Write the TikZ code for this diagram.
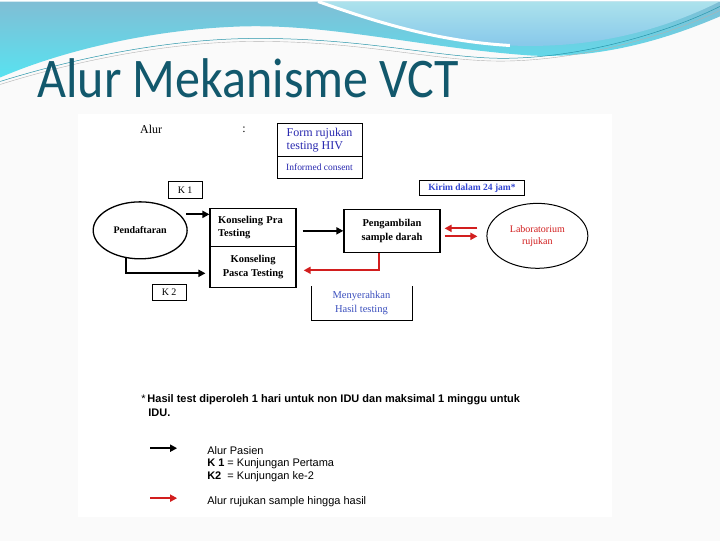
\documentclass[tikz,border=0pt]{standalone}
\usepackage{fontspec}
\setmainfont{Liberation Serif}
\newfontfamily\arialfont{Liberation Sans}
\newfontfamily\titlefont{Carlito}
\usetikzlibrary{arrows.meta, shapes.geometric, calc}

\definecolor{titleteal}{RGB}{18,88,108}
\definecolor{formblue}{RGB}{40,40,175}
\definecolor{kirimblue}{RGB}{50,70,210}
\definecolor{serahblue}{RGB}{60,80,190}
\definecolor{referred}{RGB}{210,30,30}
\definecolor{wavesteel}{RGB}{128,190,213}
\definecolor{wavecyan}{RGB}{88,226,240}
\definecolor{wavelight}{RGB}{172,226,236}
\definecolor{wavemid}{RGB}{132,198,234}
\definecolor{waveline}{RGB}{40,150,170}

\begin{document}
\begin{tikzpicture}[
  x=1pt, y=-1pt,
  flowbox/.style={draw, line width=1.3pt, inner sep=0pt,
    font=\fontsize{10.5}{13.5}\selectfont\bfseries, align=center},
  tagbox/.style={draw, line width=0.5pt, inner sep=0pt,
    font=\fontsize{10}{12}\selectfont},
  oval/.style={ellipse, draw, line width=1.3pt, inner sep=0pt},
  legendtext/.style={anchor=west, inner sep=0pt, font=\arialfont\fontsize{11}{13}\selectfont},
  patient/.style={line width=2.2pt, -{Triangle[length=7pt,width=7pt]}},
  referral/.style={referred, line width=1.8pt, -{Triangle[length=7pt,width=7pt]}},
]
  % slide background and picture panel
  \fill[white!98!black] (0,0) rectangle (720,540);
  \fill[white] (78,113) rectangle (612,516);

  % top wave
  \shade[top color=wavesteel, bottom color=wavecyan]
    (0,0) -- (720,0) -- (720,15)
    .. controls (680,32) and (610,58) .. (530,54)
    .. controls (420,46) and (330,22) .. (240,25)
    .. controls (150,28) and (60,50) .. (0,76) -- cycle;
  \shade[top color=wavelight, bottom color=wavemid]
    (318,0) .. controls (380,22) and (440,40) .. (510,44)
    .. controls (600,48) and (670,25) .. (720,0) -- cycle;
  \draw[white, line width=3pt] (318,0) .. controls (380,22) and (440,40) .. (510,44);
  \draw[waveline, line width=0.5pt]
    (0,80) .. controls (80,55) and (170,38) .. (250,37)
    .. controls (350,36) and (420,52) .. (480,56)
    .. controls (560,62) and (660,35) .. (720,5);
  \draw[gray!60, line width=0.4pt]
    (0,83) .. controls (80,58) and (170,41) .. (250,40)
    .. controls (350,39) and (420,56) .. (480,59)
    .. controls (560,64) and (660,38) .. (720,9);

  % title
  \node[anchor=base west, inner sep=0pt, text=titleteal,
    font=\titlefont\fontsize{56}{60}\selectfont] (title) at (37,96)
    {\scalebox{0.894}[1]{Alur Mekanisme VCT}};

  % header texts
  \node[inner sep=0pt, font=\fontsize{12}{14}\selectfont] (alur) at (151,128) {Alur};
  \node[inner sep=0pt, font=\fontsize{12}{14}\selectfont] (colon) at (244,128) {:};

  % form box
  \node[tagbox, text=formblue, minimum width=85pt, minimum height=33pt,
    align=left, font=\fontsize{12}{13}\selectfont] (formtop) at (319.5,138.5)
    {Form rujukan\\testing HIV};
  \node[tagbox, text=formblue, minimum width=85pt, minimum height=22pt,
    font=\fontsize{9.5}{11}\selectfont] (formbot) at (319.5,166) {Informed consent};

  % visit tags
  \node[tagbox, minimum width=34pt, minimum height=17pt] (k1) at (185,188.5) {K 1};
  \node[tagbox, minimum width=34pt, minimum height=16pt] (k2) at (169,291) {K 2};
  \node[tagbox, text=kirimblue, minimum width=105pt, minimum height=15pt,
    font=\fontsize{9.5}{11}\selectfont\bfseries] (kirim) at (472,186.5) {Kirim dalam 24 jam*};

  % flow nodes
  \node[oval, minimum width=94pt, minimum height=57pt,
    font=\fontsize{10}{12}\selectfont\bfseries] (daftar) at (140,229) {Pendaftaran};
  \node[flowbox, minimum width=86pt, minimum height=38pt, text width=70pt,
    align=left] (pra) at (253,226) {Konseling Pra\\Testing};
  \node[flowbox, minimum width=86pt, minimum height=41pt] (pasca) at (253,265.5)
    {Konseling\\Pasca Testing};
  \node[flowbox, minimum width=96pt, minimum height=43pt] (ambil) at (392,229.5)
    {Pengambilan\\sample darah};
  \node[oval, line width=1pt, minimum width=101pt, minimum height=65pt, text=referred,
    align=center, font=\fontsize{10}{12}\selectfont] (lab) at (537.5,234.5)
    {Laboratorium\\rujukan};

  % result handover (open top)
  \node[inner sep=0pt, minimum width=101pt, minimum height=34pt, text=serahblue,
    align=center, font=\fontsize{10.5}{14}\selectfont] (serah) at (361.5,302)
    {Menyerahkan\\Hasil testing};
  \draw[line width=0.6pt] (serah.north west) -- (serah.south west)
    -- (serah.south east) -- (serah.north east);

  % patient flow
  \coordinate (k1out) at (186,213);
  \draw[patient] (k1out) -- (k1out -| pra.west);
  \coordinate (k2out) at (126,257);
  \coordinate (k2in) at ($(pasca.west)+(-4,6.5)$);
  \draw[patient] (k2out) |- (k2in);
  \draw[patient] ($(ambil.west -| pra.east)+(6,0)$) -- (ambil.west);

  % sample referral
  \draw[referral] ($(lab.west)+(-9,-7.5)$) -- ($(ambil.east)+(4,-2.5)$);
  \draw[referral] ($(ambil.east)+(4,5.5)$) -- ($(lab.west)+(-9,0.5)$);
  \draw[referral] ($(ambil.south)+(-13,0)$) |- ($(pasca.east)+(7,3.5)$);

  % footnote
  \node[legendtext] (note1) at (141,398)
    {*\,\textbf{Hasil test diperoleh 1 hari untuk non IDU dan maksimal 1 minggu untuk}};
  \node[legendtext] (note2) at (148,411.5) {\textbf{IDU.}};

  % legend
  \coordinate (legA) at (150,447);
  \coordinate (legB) at (177,447);
  \draw[patient] (legA) -- (legB);
  \node[legendtext] (leg1) at (207,449) {Alur Pasien};
  \node[legendtext] (leg2) at (207,462) {\textbf{K 1} = Kunjungan Pertama};
  \node[legendtext] (leg3) at (207,475) {\textbf{K2}~ = Kunjungan ke-2};
  \coordinate (legC) at (150,497);
  \coordinate (legD) at (177,497);
  \draw[referral, line width=2.3pt] (legC) -- (legD);
  \node[legendtext] (leg4) at (207,500) {Alur rujukan sample hingga hasil};
\end{tikzpicture}
\end{document}
